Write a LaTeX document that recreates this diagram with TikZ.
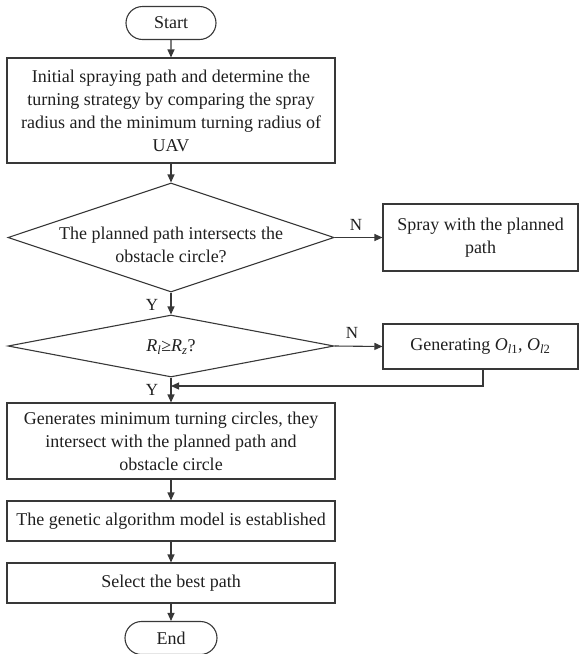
\documentclass[tikz,border=0pt]{standalone}
\usepackage{fontspec}
\setmainfont{Liberation Serif}
\usetikzlibrary{shapes.geometric,shapes.misc,arrows.meta}
\definecolor{ln}{rgb}{0.22,0.22,0.22}
\definecolor{tx}{rgb}{0.12,0.12,0.12}
\begin{document}
\begin{tikzpicture}[x=1pt,y=-1pt,
  font=\fontsize{18}{23}\selectfont,
  box/.style={draw=ln, line width=1.1pt, text=tx, align=center, inner sep=0pt, minimum width=328pt},
  sidebox/.style={draw=ln, line width=1.1pt, text=tx, align=center, inner sep=0pt, minimum width=195pt},
  term/.style={draw=ln, line width=1.1pt, text=tx, rounded rectangle, inner sep=0pt, minimum height=33pt},
  dia/.style={draw=ln, line width=1.1pt, diamond, inner sep=0pt, minimum width=326pt},
  lbl/.style={text=tx, inner sep=0pt, font=\fontsize{17}{20}\selectfont},
  arr/.style={draw=ln, line width=1.1pt, -{Triangle[length=8pt,width=7pt]}}]
\useasboundingbox (0,0) rectangle (581,654);

\node[term, minimum width=90pt] (start) at (171,23) {Start};
\node[box, minimum height=105pt] (b1) at (171,110.5) {Initial spraying path and determine the\\turning strategy by comparing the spray\\radius and the minimum turning radius of\\UAV};
\node[dia, minimum height=109pt] (d1) at (171,237.5) {};
\node[text=tx, align=center, inner sep=0pt] (d1t) at (171,245) {The planned path intersects the\\obstacle circle?};
\node[sidebox, minimum height=67pt] (spray) at (480.5,237.5) {Spray with the planned\\path};
\node[dia, minimum height=62pt] (d2) at (171,346) {};
\node[text=tx, inner sep=0pt] (d2t) at (171,347) {\textit{R}\textsubscript{\textit{l}}≥\textit{R}\textsubscript{\textit{z}}?};
\node[sidebox, minimum height=45pt] (gen) at (480.5,346.5) {Generating \textit{O}\textsubscript{\textit{l}1}, \textit{O}\textsubscript{\textit{l}2}};
\node[box, minimum height=76pt] (b3) at (171,441) {Generates minimum turning circles, they\\intersect with the planned path and\\obstacle circle};
\node[box, minimum height=40pt] (b4) at (171,521) {The genetic algorithm model is established};
\node[box, minimum height=40pt] (b5) at (171,583) {Select the best path};
\node[term, minimum width=92pt] (end) at (171,638) {End};

\node[lbl] (n1) at (356,225) {N};
\node[lbl] (n2) at (352,333) {N};
\node[lbl] (y1) at (152,305) {Y};
\node[lbl] (y2) at (152,390) {Y};

\coordinate (fb) at (483,386);
\coordinate (fbend) at (171,386);

\draw[arr] (start) -- (b1);
\draw[arr] (b1) -- (d1);
\draw[arr] (d1.east) -- (spray.west);
\draw[arr] (d1) -- (d2);
\draw[arr] (d2.east) -- (gen.west);
\draw[arr] (d2) -- (b3);
\draw[arr] (gen.south -| fb) -- (fb) -- (fbend);
\draw[arr] (b3) -- (b4);
\draw[arr] (b4) -- (b5);
\draw[arr] (b5) -- (end);
\end{tikzpicture}
\end{document}
